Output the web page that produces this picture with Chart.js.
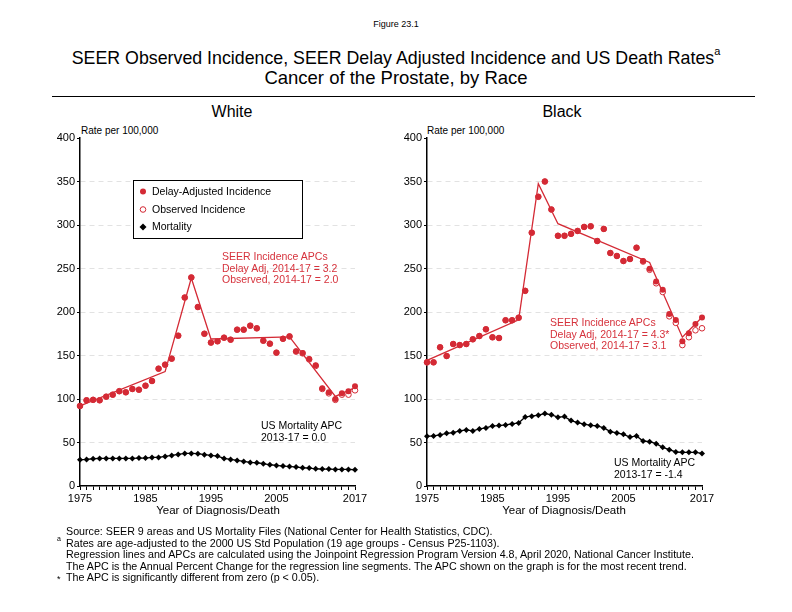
<!DOCTYPE html>
<html>
<head>
<meta charset="utf-8">
<script src="https://cdn.jsdelivr.net/npm/chart.js@4.4.0/dist/chart.umd.min.js"></script>
<style>
body { margin: 0; background: #fff; font-family: 'Liberation Sans', Arial, sans-serif; }
#page { position: relative; width: 792px; height: 612px; overflow: hidden; background: #fff; }
.t { position: absolute; white-space: nowrap; color: #000; }
.c { transform: translateX(-50%); }
.red { color: #d6323c; }
canvas { position: absolute; }
</style>
</head>
<body>
<div id="page">
  <div class="t c" style="left:396px; top:19px; font-size:9px;">Figure 23.1</div>
  <div class="t c" style="left:396px; top:47px; font-size:17.8px;">SEER Observed Incidence, SEER Delay Adjusted Incidence and US Death Rates<sup style="font-size:11px; position:relative; top:-2px;">a</sup></div>
  <div class="t c" style="left:396px; top:67px; font-size:18.5px;">Cancer of the Prostate, by Race</div>
  <div style="position:absolute; left:52px; top:96px; width:703px; height:1px; background:#000;"></div>
  <div class="t c" style="left:232px; top:103px; font-size:16px;">White</div>
  <div class="t c" style="left:562px; top:103px; font-size:16px;">Black</div>

  <div class="t" style="left:81px; top:125px; font-size:10px;">Rate per 100,000</div>
  <div class="t" style="left:427px; top:125px; font-size:10px;">Rate per 100,000</div>

  <canvas id="whiteChart" width="340" height="400" style="left:30px; top:120px; width:340px; height:400px;"></canvas>
  <canvas id="blackChart" width="340" height="400" style="left:377px; top:120px; width:340px; height:400px;"></canvas>

  <div class="t c" style="left:218px; top:504px; font-size:11.5px;">Year of Diagnosis/Death</div>
  <div class="t c" style="left:564px; top:504px; font-size:11.5px;">Year of Diagnosis/Death</div>

  <div class="t red" style="left:222px; top:251px; font-size:10.5px; line-height:11.6px;">SEER Incidence APCs<br>Delay Adj, 2014-17 = 3.2<br>Observed, 2014-17 = 2.0</div>
  <div class="t" style="left:261px; top:420px; font-size:10.5px; line-height:11.6px;">US Mortality APC<br>2013-17 = 0.0</div>
  <div class="t red" style="left:550px; top:317px; font-size:10.5px; line-height:11.6px;">SEER Incidence APCs<br>Delay Adj, 2014-17 = 4.3*<br>Observed, 2014-17 = 3.1</div>
  <div class="t" style="left:614px; top:457px; font-size:10.5px; line-height:11.6px;">US Mortality APC<br>2013-17 = -1.4</div>

  <div class="t" style="left:66px; top:526px; font-size:10.7px; line-height:11.6px;">Source: SEER 9 areas and US Mortality Files (National Center for Health Statistics, CDC).<br>Rates are age-adjusted to the 2000 US Std Population (19 age groups - Census P25-1103).<br>Regression lines and APCs are calculated using the Joinpoint Regression Program Version 4.8, April 2020, National Cancer Institute.<br>The APC is the Annual Percent Change for the regression line segments. The APC shown on the graph is for the most recent trend.<br>The APC is significantly different from zero (p &lt; 0.05).</div>
  <div class="t" style="left:57px; top:535px; font-size:7px;">a</div>
  <div class="t" style="left:57px; top:574px; font-size:9px;">*</div>
</div>

<script>
const years = [1975, 1976, 1977, 1978, 1979, 1980, 1981, 1982, 1983, 1984,
  1985, 1986, 1987, 1988, 1989, 1990, 1991, 1992, 1993, 1994,
  1995, 1996, 1997, 1998, 1999, 2000, 2001, 2002, 2003, 2004,
  2005, 2006, 2007, 2008, 2009, 2010, 2011, 2012, 2013, 2014,
  2015, 2016, 2017];
const labelYears = [1975, 1985, 1995, 2005, 2017];
const yTicks = [0, 50, 100, 150, 200, 250, 300, 350, 400];
const legendLabels = ['Delay-Adjusted Incidence', 'Observed Incidence', 'Mortality'];

// White
const whiteDelayAdj = [92, 98.5, 99, 98.5, 102.7, 105, 109, 107.7, 111.5, 110.7,
  115.3, 120.7, 134.9, 139.5, 146.4, 172.8, 216.6, 239.7, 205.7, 175,
  164.8, 166.3, 170.5, 168.2, 179.7, 179.7, 184.3, 181.2, 167, 163.6,
  153.3, 169.3, 172, 154.8, 152.9, 146, 138.7, 112.3, 107.7, 100,
  106.5, 108.8, 114.6];
const whiteObserved = [92, 98.5, 99, 98.5, 102.7, 105, 109, 107.7, 111.5, 110.7,
  115.3, 120.7, 134.9, 139.5, 146.4, 172.8, 216.6, 239.7, 205.7, 175,
  164.8, 166.3, 170.5, 168.2, 179.7, 179.7, 184.3, 181.2, 167, 163.6,
  153.3, 169.2, 171.8, 154.5, 152.5, 145.5, 138, 111.5, 106.5, 99,
  105, 105, 110];
const whiteMortality = [30.2, 30.6, 31.3, 31.7, 31.7, 31.7, 31.7, 31.7, 31.7, 32.1,
  32.1, 32.9, 32.9, 34, 35.2, 36.3, 37.5, 37.5, 37.1, 36,
  35.2, 34.4, 31.7, 30.6, 29.4, 28.3, 27.1, 26.7, 25.6, 24.4,
  23.7, 22.9, 22.5, 21.7, 21, 20.6, 19.8, 19.4, 19.4, 19,
  19, 19, 18.7];
// joinpoint fitted values (null between joinpoints)
const whiteTrend = [92, null, null, null, null, null, null, null, null, null,
  null, null, null, 131.5, null, null, null, 239, null, null,
  169, null, null, null, null, null, null, null, null, null,
  null, null, 171.5, null, null, null, null, null, null, 103,
  null, null, 113];

// Black
const blackDelayAdj = [142.1, 142.1, 159.4, 149.4, 163.2, 162, 163.2, 168.6, 172.4, 180.1,
  170.9, 170.1, 190.5, 190.5, 193.5, 224.3, 291.2, 332.4, 350, 317.8,
  287.6, 287.6, 289.8, 293.2, 297.8, 298.5, 281.6, 295.5, 267.8, 264.4,
  258.6, 260.9, 273.9, 258.6, 249.7, 235, 225.5, 197.8, 190.9, 166.5,
  175.5, 186.2, 193.8];
const blackObserved = [142.1, 142.1, 159.4, 149.4, 163.2, 162, 163.2, 168.6, 172.4, 180.1,
  170.9, 170.1, 190.5, 190.5, 193.5, 224.3, 291.2, 332.4, 350, 317.8,
  287.6, 287.6, 289.8, 293.2, 297.8, 298.5, 281.6, 295.5, 267.8, 264.4,
  258.6, 260.9, 273.9, 258, 248.5, 233, 223, 195, 187.5, 162,
  171, 179, 181.3];
const blackMortality = [57.1, 57.5, 58.7, 60.6, 61.3, 63.3, 64.4, 63.3, 65.6, 66.7,
  69, 69.4, 70.2, 71.4, 72.5, 79.4, 80.2, 81.4, 83.3, 81.8,
  79.1, 79.8, 75.2, 72.9, 71, 69.8, 69, 66.7, 62.5, 61,
  59.4, 56.3, 57.5, 51.7, 51, 48.7, 44.5, 41.8, 39.1, 38.7,
  38.7, 38.7, 37.5];
const blackTrend = [144.5, null, null, null, null, null, null, null, null, null,
  null, null, null, null, 191, null, null, 347.5, null, null,
  301.5, null, null, null, null, null, null, null, null, null,
  null, null, null, null, 257, null, null, null, null, 171,
  null, null, 194];

const red = '#d42a35';
const fontFam = "'Liberation Sans', Arial, sans-serif";

const legendBoxPlugin = {
  id: 'legendBox',
  afterDraw(chart) {
    const ctx = chart.ctx;
    ctx.save();
    ctx.strokeStyle = '#000';
    ctx.lineWidth = 1;
    ctx.fillStyle = '#fff';
    ctx.fillRect(103.5, 60.5, 169, 58);
    ctx.strokeRect(103.5, 60.5, 169, 58);
    const rows = [71.5, 89.5, 107];
    ctx.font = '10.5px ' + fontFam;
    ctx.textBaseline = 'middle';
    legendLabels.forEach((lab, i) => {
      const x = 113, y = rows[i];
      ctx.beginPath();
      if (i === 0) {
        ctx.fillStyle = red;
        ctx.arc(x, y, 3, 0, Math.PI * 2);
        ctx.fill();
      } else if (i === 1) {
        ctx.strokeStyle = red;
        ctx.arc(x, y, 2.8, 0, Math.PI * 2);
        ctx.stroke();
      } else {
        ctx.fillStyle = '#000';
        ctx.moveTo(x, y - 3.5); ctx.lineTo(x + 3.5, y); ctx.lineTo(x, y + 3.5); ctx.lineTo(x - 3.5, y);
        ctx.closePath();
        ctx.fill();
      }
      ctx.fillStyle = '#000';
      ctx.fillText(lab, 122, y + 0.5);
    });
    ctx.restore();
  }
};

function makeChart(id, delayAdj, observed, mortality, trend, extraPlugins) {
  return new Chart(document.getElementById(id), {
    type: 'line',
    data: {
      labels: years,
      datasets: [
        {
          label: 'Mortality',
          data: mortality,
          borderColor: '#000',
          backgroundColor: '#000',
          borderWidth: 1.3,
          pointStyle: 'rectRot',
          pointRadius: 3,
          pointBorderWidth: 0,
          clip: false,
          order: 0
        },
        {
          label: 'Delay-Adjusted Incidence',
          data: delayAdj,
          showLine: false,
          backgroundColor: red,
          borderColor: red,
          pointRadius: 3,
          pointBorderWidth: 0,
          clip: false,
          order: 1
        },
        {
          label: 'Observed Incidence',
          data: observed,
          showLine: false,
          backgroundColor: '#fff',
          borderColor: red,
          pointRadius: 2.8,
          pointBorderWidth: 1,
          clip: false,
          order: 2
        },
        {
          label: 'Trend',
          data: trend,
          spanGaps: true,
          borderColor: red,
          borderWidth: 1.3,
          pointRadius: 0,
          clip: false,
          order: 3
        }
      ]
    },
    options: {
      responsive: false,
      animation: false,
      layout: { padding: { left: 0, right: 15, top: 18, bottom: 0 } },
      plugins: { legend: { display: false }, tooltip: { enabled: false } },
      scales: {
        x: {
          type: 'category',
          offset: false,
          afterFit: (scale) => { scale.height = 34; },
          border: { color: '#000', width: 1.5 },
          grid: { drawOnChartArea: false, drawTicks: true, tickLength: 4, tickColor: '#000', offset: false },
          ticks: {
            autoSkip: false,
            maxRotation: 0,
            padding: 2,
            color: '#000',
            font: { size: 11, family: fontFam },
            callback: function (value, index) {
              const y = years[index];
              return labelYears.includes(y) ? String(y) : '';
            }
          }
        },
        y: {
          min: 0,
          max: 400,
          afterFit: (scale) => { scale.width = 50; },
          afterBuildTicks: (scale) => { scale.ticks = yTicks.map(v => ({ value: v })); },
          border: { color: '#000', width: 1.5, dash: [5, 4] },
          grid: {
            color: (ctx) => (ctx.tick && (ctx.tick.value === 0 || ctx.tick.value === 400)) ? 'rgba(0,0,0,0)' : '#e2e2e2',
            lineWidth: 1,
            drawTicks: true,
            tickLength: 3,
            tickColor: '#000',
            tickBorderDash: []
          },
          ticks: {
            padding: 2,
            color: '#000',
            font: { size: 11, family: fontFam }
          }
        }
      }
    },
    plugins: extraPlugins
  });
}

makeChart('whiteChart', whiteDelayAdj, whiteObserved, whiteMortality, whiteTrend, [legendBoxPlugin]);
makeChart('blackChart', blackDelayAdj, blackObserved, blackMortality, blackTrend, []);
</script>
</body>
</html>
